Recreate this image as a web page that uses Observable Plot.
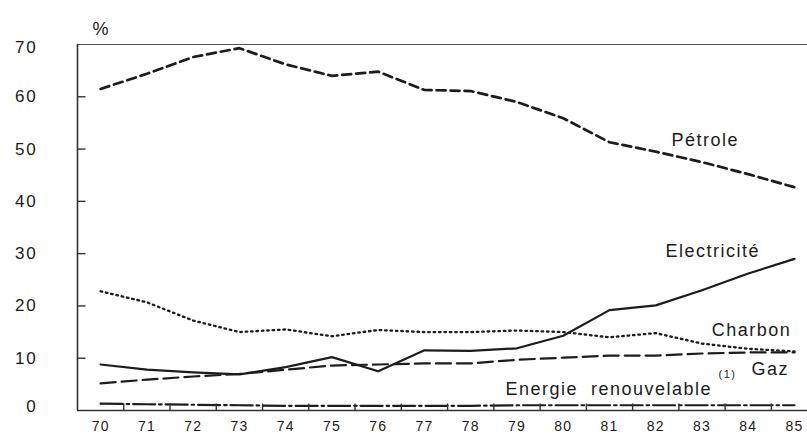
<!DOCTYPE html>
<html>
<head>
<meta charset="utf-8">
<script src="https://cdn.jsdelivr.net/npm/d3@7"></script>
<script src="https://cdn.jsdelivr.net/npm/@observablehq/plot@0.6"></script>
<style>
  html, body { margin: 0; padding: 0; background: #fff; }
  #chart svg { display: block; }
  #chart svg text { letter-spacing: 1.5px; }
  #chart g[aria-label="y-axis tick label"] text { letter-spacing: 1.8px; }
  #chart g[aria-label="x-axis tick label"] text { letter-spacing: 1.2px; }
</style>
</head>
<body>
<div id="chart"></div>
<script>
// ---- data ----
const years = [70, 71, 72, 73, 74, 75, 76, 77, 78, 79, 80, 81, 82, 83, 84, 85];
const petrole     = [61.5, 64.4, 67.6, 69.3, 66.2, 64.0, 64.8, 61.3, 61.1, 59.0, 55.9, 51.3, 49.5, 47.5, 45.2, 42.7];
const electricite = [8.8, 7.8, 7.3, 6.9, 8.3, 10.2, 7.5, 11.5, 11.4, 11.9, 14.3, 19.2, 20.1, 23.0, 26.2, 29.0];
const charbon     = [22.8, 20.7, 17.2, 15.0, 15.5, 14.2, 15.4, 15.0, 15.0, 15.3, 15.0, 14.0, 14.8, 12.8, 11.8, 11.3];
const gaz         = [5.2, 5.9, 6.5, 7.0, 7.8, 8.6, 8.8, 9.0, 9.0, 9.7, 10.1, 10.5, 10.5, 10.9, 11.1, 11.1];
const renouvelable = [1.3, 1.2, 1.1, 1.0, 0.9, 0.9, 0.9, 0.9, 0.9, 1.0, 1.0, 1.0, 1.0, 1.0, 1.0, 1.0];

const yTicks = [0, 10, 20, 30, 40, 50, 60, 70];
const xTickLabels = years;
const halfYearTicks = [70.5, 71.5, 72.5, 73.5, 74.5, 75.5, 76.5, 77.5, 78.5, 79.5, 80.5, 81.5, 82.5, 83.5, 84.5];

// series labels, positioned in data units
const seriesLabels = [
  {text: "Pétrole",              x: 83.07, y: 51.6, anchor: "middle"},
  {text: "Electricité",          x: 83.23, y: 30.5, anchor: "middle"},
  {text: "Charbon",              x: 84.93, y: 15.3, anchor: "end"},
  {text: "Gaz",                  x: 84.88, y: 7.9,  anchor: "end"},
  {text: "Energie  renouvelable", x: 78.75, y: 4.0,  anchor: "start"}
];
const footnoteMarks = [{text: "(1)", x: 83.55, y: 6.8}];

// ---- styles ----
const ink = "#1c1c1c";
const series = [
  {values: petrole,      width: 2.7, dash: "9,5"},
  {values: electricite,  width: 2.2, dash: null},
  {values: charbon,      width: 2.3, dash: "1.6,3.8"},
  {values: gaz,          width: 2.2, dash: "15,6"},
  {values: renouvelable, width: 2.2, dash: "22,4,2.5,4"}
];

const W = 807, H = 437, mL = 77, mR = 0, mT = 44, mB = 27;
const plotW = W - mL - mR, plotH = H - mT - mB;
const xDomain = [69.5, 85.28];
const yDomain = [0, 70];
// tick lengths expressed in data units (8px horizontally, 7px vertically)
const yTickLen = 8 * (xDomain[1] - xDomain[0]) / plotW;
const xTickLen = 7 * (yDomain[1] - yDomain[0]) / plotH;

const lineMarks = series.map(s =>
  Plot.line(years.map((yr, i) => ({year: yr, v: s.values[i]})), {
    x: "year", y: "v", stroke: ink, strokeWidth: s.width,
    strokeDasharray: s.dash, strokeLinejoin: "round"
  })
);

const chart = Plot.plot({
  width: W,
  height: H,
  marginLeft: mL,
  marginRight: mR,
  marginTop: mT,
  marginBottom: mB,
  x: {domain: xDomain},
  y: {domain: yDomain},
  style: {fontFamily: "'Liberation Sans', Arial, sans-serif", color: ink, background: "#fff"},
  marks: [
    Plot.ruleY([yDomain[1]], {stroke: "#555", strokeWidth: 1.2}),
    Plot.ruleY([yDomain[0]], {stroke: "#333", strokeWidth: 1.6}),
    Plot.ruleX([xDomain[0]], {stroke: "#333", strokeWidth: 1.6}),
    ...lineMarks,
    // inward y ticks
    Plot.link(yTicks.slice(1, -1), {x1: () => xDomain[0], x2: () => xDomain[0] + yTickLen, y1: d => d, y2: d => d,
      stroke: "#333", strokeWidth: 1.4}),
    // inward x ticks between the years
    Plot.link(halfYearTicks, {x1: d => d, x2: d => d, y1: () => yDomain[0], y2: () => yDomain[0] + xTickLen,
      stroke: "#333", strokeWidth: 1.4}),
    // y tick labels (the end labels sit slightly inward in the original)
    Plot.axisY(yTicks.slice(1, -1), {tickSize: 0, tickPadding: 40, fontSize: 17, fill: ink}),
    Plot.axisY(yTicks.slice(0, 1), {tickSize: 0, tickPadding: 40, fontSize: 17, fill: ink, dy: -4}),
    Plot.axisY(yTicks.slice(-1), {tickSize: 0, tickPadding: 40, fontSize: 17, fill: ink, dy: 3}),
    Plot.axisX(xTickLabels, {tickSize: 0, tickPadding: 11, fontSize: 14, fill: ink}),
    Plot.text(seriesLabels, {x: "x", y: "y", text: "text", textAnchor: "start", filter: d => d.anchor === "start", fontSize: 18, fill: ink}),
    Plot.text(seriesLabels, {x: "x", y: "y", text: "text", textAnchor: "middle", filter: d => d.anchor === "middle", fontSize: 18, fill: ink}),
    Plot.text(seriesLabels, {x: "x", y: "y", text: "text", textAnchor: "end", filter: d => d.anchor === "end", fontSize: 18, fill: ink}),
    Plot.text(footnoteMarks, {x: "x", y: "y", text: "text", fontSize: 11, fill: ink}),
    Plot.text(["%"], {frameAnchor: "top-left", dx: 15, dy: -22, fontSize: 18, fill: ink})
  ]
});

document.getElementById("chart").append(chart);
</script>
</body>
</html>
